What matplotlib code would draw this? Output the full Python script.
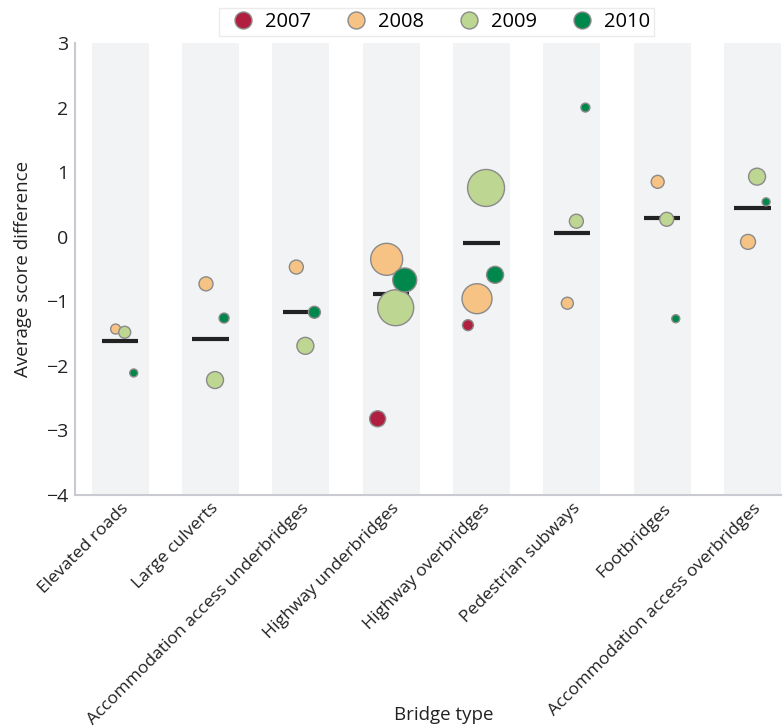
import matplotlib
matplotlib.use("Agg")
import matplotlib.pyplot as plt
import numpy as np

categories = ["Elevated roads", "Large culverts", "Accommodation access underbridges",
              "Highway underbridges", "Highway overbridges", "Pedestrian subways",
              "Footbridges", "Accommodation access overbridges"]
years = ["2007", "2008", "2009", "2010"]
# values per year (None = no data)
v2007 = [None, None, None, -2.82, -1.37, None, None, None]
v2008 = [-1.43, -0.73, -0.47, -0.35, -0.96, -1.03, 0.85, -0.08]
v2009 = [-1.48, -2.22, -1.69, -1.10, 0.755, 0.24, 0.27, 0.93]
v2010 = [-2.11, -1.26, -1.17, -0.67, -0.59, 2.00, -1.27, 0.54]
# bubble sizes (relative counts)
n2007 = [None, None, None, 64, 30, None, None, None]
n2008 = [25, 49, 49, 256, 225, 36, 42, 56]
n2009 = [36, 72, 72, 324, 342, 49, 49, 72]
n2010 = [16, 25, 36, 144, 72, 20, 16, 16]
means = [-1.615, -1.58, -1.17, -0.89, -0.10, 0.05, 0.29, 0.445]

colors = ["#b01f40", "#f7c384", "#bdd692", "#00874b"]
values = [v2007, v2008, v2009, v2010]
sizes = [n2007, n2008, n2009, n2010]
offsets = [-0.15, -0.05, 0.05, 0.15]

plt.rcParams['font.family'] = ['Open Sans', 'DejaVu Sans']
fig = plt.figure(figsize=(7.83, 7.28), dpi=100)
ax = fig.add_axes([75/783, 1-495/728, (781-75)/783, (495-43)/728])

x = np.arange(len(categories))
ax.bar(x, [7]*len(x), bottom=-4, width=0.63, color="#f2f3f5", zorder=0)

for i in range(len(categories)):
    ax.plot([x[i]-0.2, x[i]+0.2], [means[i], means[i]], color="#222222", lw=3,
            solid_capstyle='butt', zorder=2)

k = 2.07  # px radius^2 -> pt^2 scale factor ((2*0.72)^2)
for yi, (vals, ns, c, off) in enumerate(zip(values, sizes, colors, offsets)):
    xs = [x[i]+off for i in range(len(categories)) if vals[i] is not None]
    ys = [vals[i] for i in range(len(categories)) if vals[i] is not None]
    ss = [ns[i]*k for i in range(len(categories)) if vals[i] is not None]
    ax.scatter(xs, ys, s=ss, color=c, edgecolor="#8a8a8a", linewidth=1, zorder=3)

ax.set_xlim(-0.5, 7.315)
ax.set_ylim(-4, 3)
ax.set_yticks(range(-4, 4))
ax.set_yticklabels([str(t).replace('-', '\u2212') for t in range(-4, 4)], fontsize=14, color="#222222")
ax.set_xticks(x)
ax.set_xticklabels(categories, rotation=45, ha='right', rotation_mode='anchor',
                   fontsize=12.6, color="#222222")
ax.tick_params(axis='y', length=0, pad=5)
ax.tick_params(axis='x', length=0, pad=4)
for s in ['top', 'right']:
    ax.spines[s].set_visible(False)
for s in ['left', 'bottom']:
    ax.spines[s].set_color("#c9cad2")
    ax.spines[s].set_linewidth(1.5)
ax.set_ylabel("Average score difference", fontsize=13.5, color="#222222", labelpad=10)
ax.set_xlabel("Bridge type", fontsize=13.5, color="#222222")
ax.xaxis.set_label_coords(0.523, -0.466)

handles = [plt.Line2D([], [], marker='o', ls='', markersize=12.2, markerfacecolor=c,
                      markeredgecolor="#8a8a8a", markeredgewidth=1) for c in colors]
leg = fig.legend(handles, years, loc='upper center', bbox_to_anchor=(436.5/783, 1-8/728),
                 ncol=4, fontsize=14.5, frameon=True, fancybox=False, edgecolor="#e6e6e6",
                 handletextpad=0.09, columnspacing=1.25, borderpad=0.2, handlelength=1.99,
                 borderaxespad=0)
leg.get_frame().set_linewidth(1)

fig.savefig("out.png", dpi=100)
